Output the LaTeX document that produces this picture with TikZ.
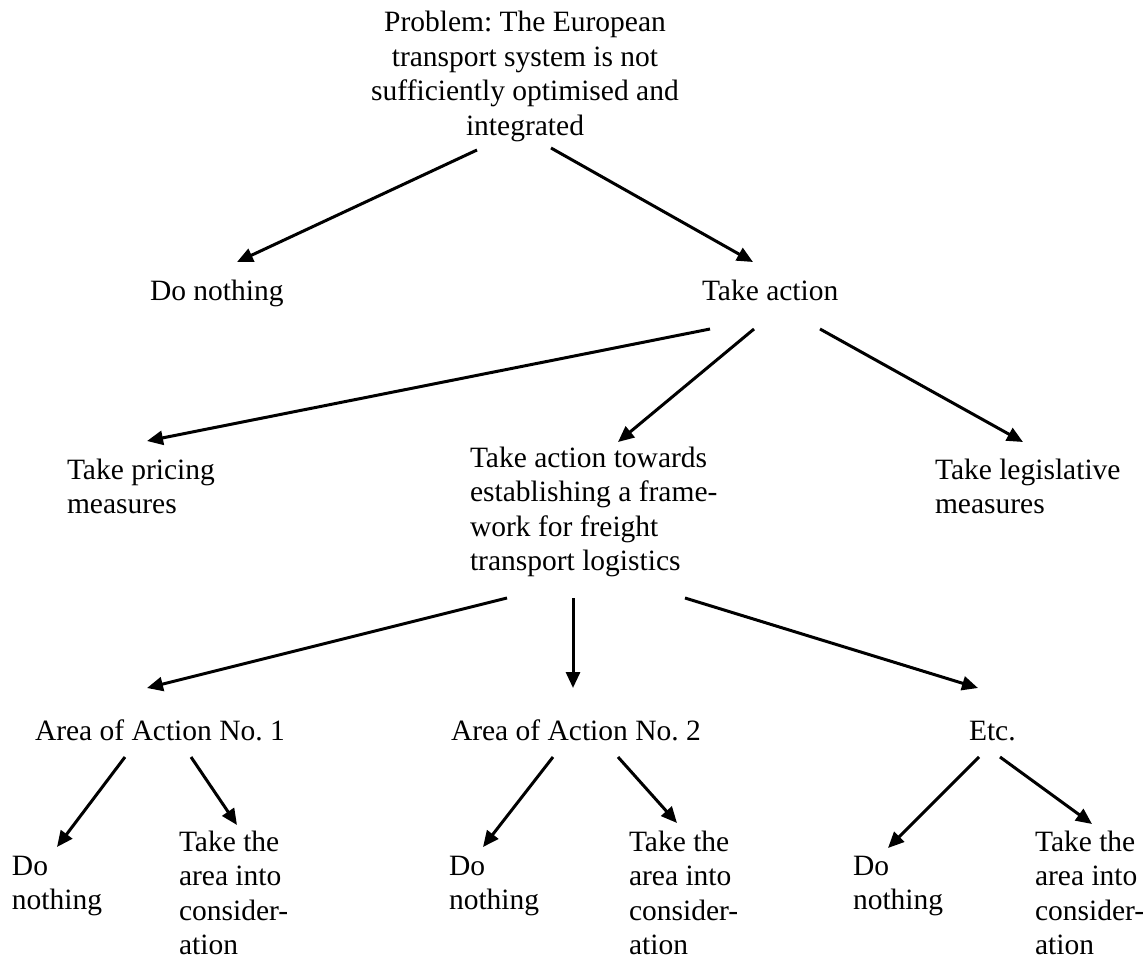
\documentclass[tikz,border=0pt]{standalone}
\usepackage{fontspec}
\setmainfont{Liberation Serif}
\usetikzlibrary{arrows.meta,calc}
\newcommand\lblfont{\fontsize{29.5}{34.5}\selectfont\frenchspacing}
\begin{document}
\begin{tikzpicture}[x=1pt,y=-1pt,
  lbl/.style={inner sep=0pt, outer sep=0pt, anchor=north west, align=left, font=\lblfont},
  toplbl/.style={inner sep=0pt, outer sep=0pt, anchor=north, align=center, font=\lblfont},
  arr/.style={line width=3pt, -{Triangle[length=16pt,width=14pt]}}]
\useasboundingbox[fill=white] (0,0) rectangle (1148,960);
% nodes (north west = (x, baseline - 24.15))
\node[toplbl] (top) at (525,7.85) {\strut Problem: The European\\transport system is not\\sufficiently optimised and\\integrated};
\node[lbl] (dn) at (150,275.85) {\strut Do nothing};
\node[lbl] (ta) at (702,275.85) {\strut Take action};
\node[lbl] (pr) at (67,454.85) {\strut Take pricing\\measures};
\node[lbl] (fw) at (470,442.85) {\strut Take action towards\\establishing a frame-\\work for freight\\transport logistics};
\node[lbl] (lg) at (935,454.85) {\strut Take legislative\\measures};
\node[lbl] (a1) at (35,715.85) {\strut Area of Action No. 1};
\node[lbl] (a2) at (451,715.85) {\strut Area of Action No. 2};
\node[lbl] (a3) at (969,715.85) {\strut Etc.};
\node[lbl] (d1) at (12,850.85) {\strut Do\\nothing};
\node[lbl] (t1) at (179,826.85) {\strut Take the\\area into\\consider-\\ation};
\node[lbl] (d2) at (449,850.85) {\strut Do\\nothing};
\node[lbl] (t2) at (629,826.85) {\strut Take the\\area into\\consider-\\ation};
\node[lbl] (d3) at (853,850.85) {\strut Do\\nothing};
\node[lbl] (t3) at (1035,826.85) {\strut Take the\\area into\\consider-\\ation};
% connectors
\draw[arr] ($(top.north)+(-48,142.15)$) -- ($(dn.north west)+(87,-13.85)$);
\draw[arr] ($(top.north)+(26,140.15)$) -- ($(ta.north west)+(51,-13.85)$);
\draw[arr] ($(ta.north west)+(8,53.15)$) -- ($(pr.north west)+(80,-13.85)$);
\draw[arr] ($(ta.north west)+(52,53.15)$) -- ($(fw.north west)+(148,-0.85)$);
\draw[arr] ($(ta.north west)+(118,53.15)$) -- ($(lg.north west)+(88,-12.85)$);
\draw[arr] ($(fw.north west)+(37,155.15)$) -- ($(a1.north west)+(112,-27.85)$);
\draw[arr] ($(fw.north west)+(103,155.15)$) -- ($(a2.north west)+(122,-27.85)$);
\draw[arr] ($(fw.north west)+(215,155.15)$) -- ($(a3.north west)+(9,-27.85)$);
\draw[arr] ($(a1.north west)+(90,41.15)$) -- ($(d1.north west)+(45,-3.85)$);
\draw[arr] ($(a1.north west)+(156,41.15)$) -- ($(t1.north west)+(58,-1.85)$);
\draw[arr] ($(a2.north west)+(102,41.15)$) -- ($(d2.north west)+(34,-3.85)$);
\draw[arr] ($(a2.north west)+(167,41.15)$) -- ($(t2.north west)+(48,-3.85)$);
\draw[arr] ($(a3.north west)+(10,41.15)$) -- ($(d3.north west)+(35,-2.85)$);
\draw[arr] ($(a3.north west)+(31,41.15)$) -- ($(t3.north west)+(57,-2.85)$);
\end{tikzpicture}
\end{document}
